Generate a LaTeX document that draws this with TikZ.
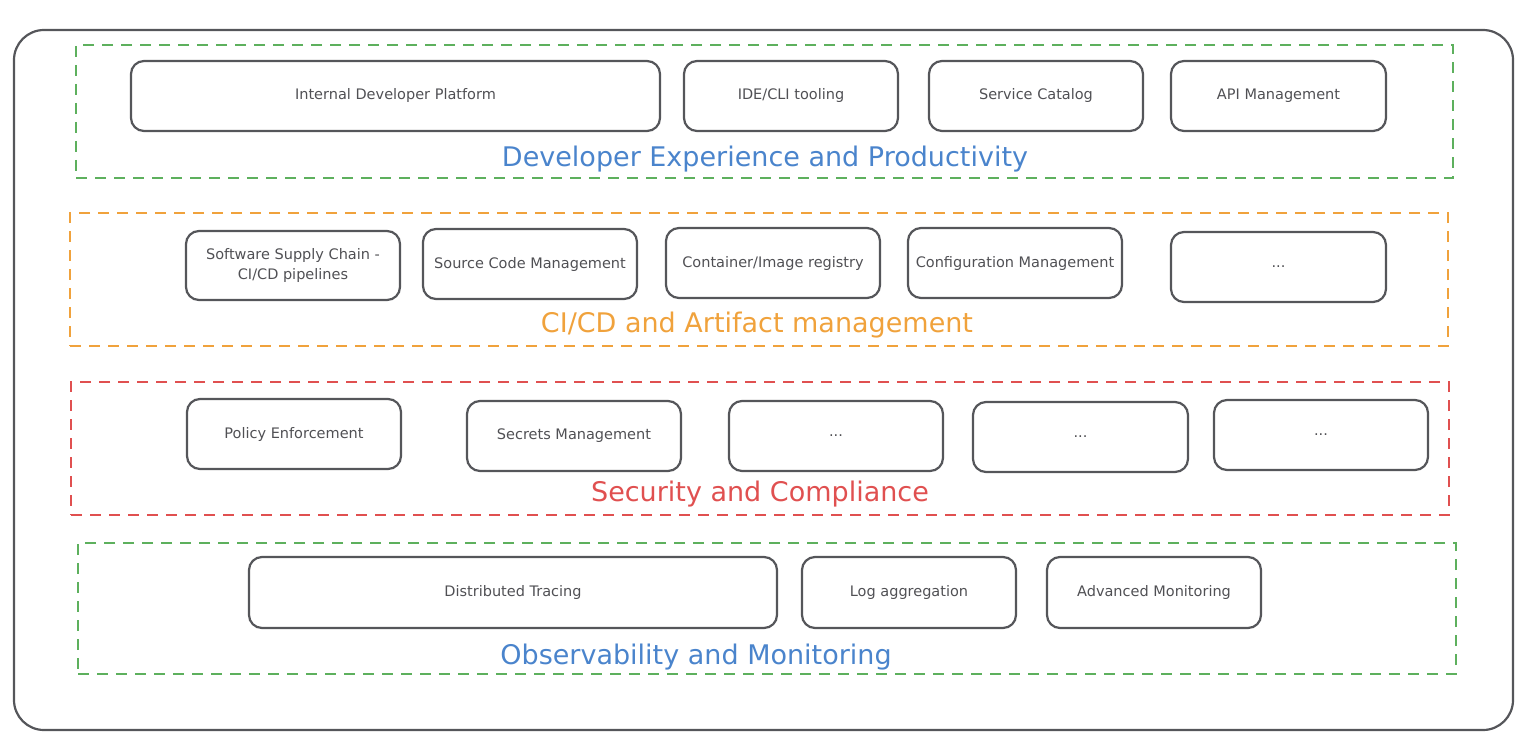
\documentclass[tikz,border=0pt]{standalone}
\usepackage{fontspec}
\setmainfont{DejaVu Sans}
\definecolor{edge}{HTML}{55565A}
\definecolor{txt}{HTML}{505054}
\definecolor{grp green}{HTML}{5DB05D}
\definecolor{grp orange}{HTML}{F0A23C}
\definecolor{grp red}{HTML}{E05050}
\definecolor{lab blue}{HTML}{4A84CC}
\tikzset{
  item/.style={draw=edge, line width=2.2pt, rounded corners=13pt, text=txt,
    font=\fontsize{14.5}{19.5}\selectfont, align=center, inner sep=0pt},
  grp/.style={line width=2pt, dash pattern=on 11pt off 8pt},
  title/.style={font=\fontsize{27}{30}\selectfont, anchor=center},
}
\newcommand{\itembox}[6]{% name, x1, y1, x2, y2, text
  \node[item, minimum width=#4-#2, minimum height=#5-#3] (#1) at ({(#2+#4)/2},{(#3+#5)/2}) {#6};}
\begin{document}
\begin{tikzpicture}[x=1pt,y=-1pt]
\useasboundingbox (0,0) rectangle (1533,746);
\node[draw=edge, line width=2.2pt, rounded corners=30pt, minimum width=1499pt, minimum height=700pt, inner sep=0pt] (outer) at (763.5,380) {};
% groups
\node[draw=grp green, grp, minimum width=1377pt, minimum height=133pt, inner sep=0pt] (g1) at (764.5,111.5) {};
\node[draw=grp orange, grp, minimum width=1378pt, minimum height=133pt, inner sep=0pt] (g2) at (759,279.5) {};
\node[draw=grp red, grp, minimum width=1378pt, minimum height=133pt, inner sep=0pt] (g3) at (760,448.5) {};
\node[draw=grp green, grp, minimum width=1378pt, minimum height=131pt, inner sep=0pt] (g4) at (767,608.5) {};
% row 1
\itembox{idp}{131}{61}{660}{131}{Internal Developer Platform}
\itembox{ide}{684}{61}{898}{131}{IDE/CLI tooling}
\itembox{cat}{929}{61}{1143}{131}{Service Catalog}
\itembox{api}{1171}{61}{1386}{131}{API Management}
\node[title, text=lab blue] (t1) at (765,159) {Developer Experience and Productivity};
% row 2
\itembox{ssc}{186}{231}{400}{300}{Software Supply Chain -\\CI/CD pipelines}
\itembox{scm}{423}{229}{637}{299}{Source Code Management}
\itembox{reg}{666}{228}{880}{298}{Container/Image registry}
\itembox{cfg}{908}{228}{1122}{298}{Configuration Management}
\itembox{more2}{1171}{232}{1386}{302}{...}
\node[title, text=grp orange] (t2) at (757,325) {CI/CD and Artifact management};
% row 3
\itembox{pol}{187}{399}{401}{469}{Policy Enforcement}
\itembox{sec}{467}{401}{681}{471}{Secrets Management}
\itembox{more3a}{729}{401}{943}{471}{...}
\itembox{more3b}{973}{402}{1188}{472}{...}
\itembox{more3c}{1214}{400}{1428}{470}{...}
\node[title, text=grp red] (t3) at (760,494) {Security and Compliance};
% row 4
\itembox{trace}{249}{557}{777}{628}{Distributed Tracing}
\itembox{logs}{802}{557}{1016}{628}{Log aggregation}
\itembox{mon}{1047}{557}{1261}{628}{Advanced Monitoring}
\node[title, text=lab blue] (t4) at (696,657) {Observability and Monitoring};
\end{tikzpicture}
\end{document}
